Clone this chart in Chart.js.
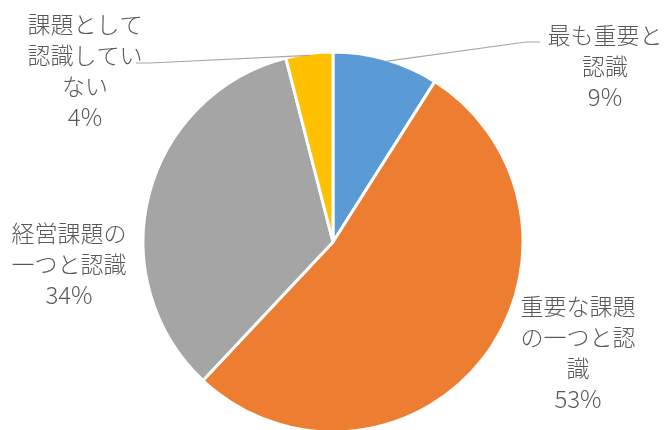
<!DOCTYPE html>
<html><head><meta charset="utf-8">
<script src="https://cdn.jsdelivr.net/npm/chart.js@4/dist/chart.umd.min.js"></script>
<style>html,body{margin:0;padding:0;background:#fff;}#wrap{width:668px;height:430px;}</style>
</head><body><div id="wrap"><canvas id="c" width="668" height="430"></canvas></div>
<script>
const categories = ["最も重要と認識", "重要な課題の一つと認識", "経営課題の一つと認識", "課題として認識していない"];
const labelLines = [["最も重要と", "認識"], ["重要な課題", "の一つと認", "識"], ["経営課題の", "一つと認識"], ["課題として", "認識してい", "ない"]];
const values = [9, 53, 34, 4];
const colors = ["#5B9BD5", "#ED7D31", "#A5A5A5", "#FFC000"];

// label layout (styling only): text centre x, first line y, and optional leader
const labelLayout = [
  {x: 605, y: 35, leaderEnd: [526, 42], leaderRadius: 0.99},
  {x: 578, y: 306},
  {x: 69, y: 233},
  {x: 85, y: 24, leaderEnd: [150, 63], leaderRadius: 0.99}
];

const labelPlugin = {
  id: 'labels',
  afterDatasetsDraw(chart) {
    const ctx = chart.ctx;
    const meta = chart.getDatasetMeta(0);
    const total = values.reduce((a, b) => a + b, 0);
    ctx.save();
    meta.data.forEach((arc, i) => {
      const L = labelLayout[i];
      if (L.leaderEnd) {
        const mid = (arc.startAngle + arc.endAngle) / 2;
        const r = arc.outerRadius * L.leaderRadius;
        const sx = arc.x + Math.cos(mid) * r, sy = arc.y + Math.sin(mid) * r;
        ctx.strokeStyle = '#A6A6A6';
        ctx.lineWidth = 1.2;
        ctx.beginPath();
        ctx.moveTo(sx, sy);
        ctx.lineTo(L.leaderEnd[0], L.leaderEnd[1]);
        ctx.lineTo(L.leaderEnd[0] + 14 * Math.sign(L.leaderEnd[0] - sx), L.leaderEnd[1]);
        ctx.stroke();
      }
      ctx.fillStyle = '#595959';
      ctx.textAlign = 'center';
      ctx.textBaseline = 'middle';
      const lines = labelLines[i].concat([Math.round(values[i] / total * 100) + '%']);
      lines.forEach((t, k) => {
        const isPct = k === lines.length - 1;
        ctx.font = isPct ? '300 24px "Noto Sans CJK JP"' : '300 23px "Noto Sans CJK JP"';
        ctx.fillText(t, L.x, L.y + k * 31);
      });
    });
    ctx.restore();
  }
};

new Chart(document.getElementById('c'), {
  type: 'pie',
  data: {
    labels: categories,
    datasets: [{
      data: values,
      backgroundColor: colors,
      borderColor: '#FFFFFF',
      borderWidth: 3,
      hoverOffset: 0
    }]
  },
  options: {
    responsive: false,
    animation: false,
    radius: 190,
    layout: {padding: {top: 54, bottom: 0, left: 140, right: 142}},
    plugins: {legend: {display: false}, tooltip: {enabled: false}},
  },
  plugins: [labelPlugin]
});
</script></body></html>
